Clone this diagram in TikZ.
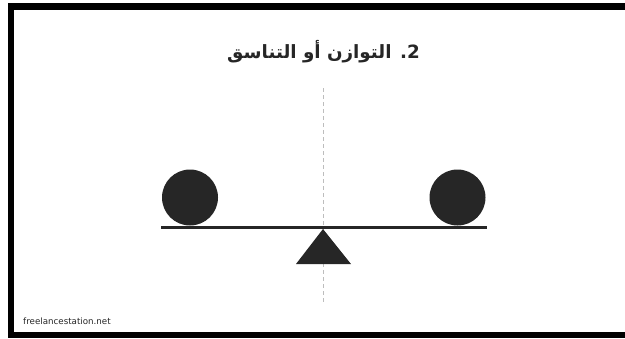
\documentclass[tikz,border=0pt]{standalone}
\usepackage{fontspec}
\setmainfont{DejaVu Sans}
\newfontfamily\arabicfont[Script=Arabic]{DejaVu Sans}
\TeXXeTstate=1
\usepackage{xcolor}
\usetikzlibrary{positioning}

\definecolor{inkdark}{HTML}{262626}
\definecolor{guidegray}{HTML}{BDBDBD}

\begin{document}
\begin{tikzpicture}[
  x=1pt, y=-1pt,
  frame/.style={fill=black},
  weight/.style={fill=inkdark},
  beam/.style={draw=inkdark, line width=3.6pt},
  guide/.style={draw=guidegray, line width=1pt, dash pattern=on 4pt off 3pt},
  every node/.style={inner sep=0pt, text=inkdark}
]
\useasboundingbox (0,0) rectangle (625,338);
\fill[white] (0,0) rectangle (625,338);

% Frame
\fill[frame] (8,3) rectangle (625,10);
\fill[frame] (8,3) rectangle (14,338);
\fill[frame] (8,332) rectangle (625,338);

% Title
\node (title) at (323.5,52) {\arabicfont\bfseries\fontsize{18.3}{22}\selectfont\beginR 2. التوازن أو التناسق\endR};

% Balance axis
\coordinate (axistop) at (323,88);
\coordinate (axisbot) at (323,303);
\draw[guide] (axistop) -- (axisbot);

% Beam and pivot
\coordinate (beamL) at (161,227.5);
\coordinate (beamR) at (487,227.5);
\draw[beam] (beamL) -- (beamR);
\fill[weight] (323,229) -- (351,264) -- (296,264) -- cycle;

% Weights
\fill[weight] (190,197.5) circle (28);
\fill[weight] (457.5,197.5) circle (28);

% Source
\node (source) [anchor=west, font=\fontsize{8.7}{10}\selectfont] at (23,321) {freelancestation.net};
\end{tikzpicture}
\end{document}
